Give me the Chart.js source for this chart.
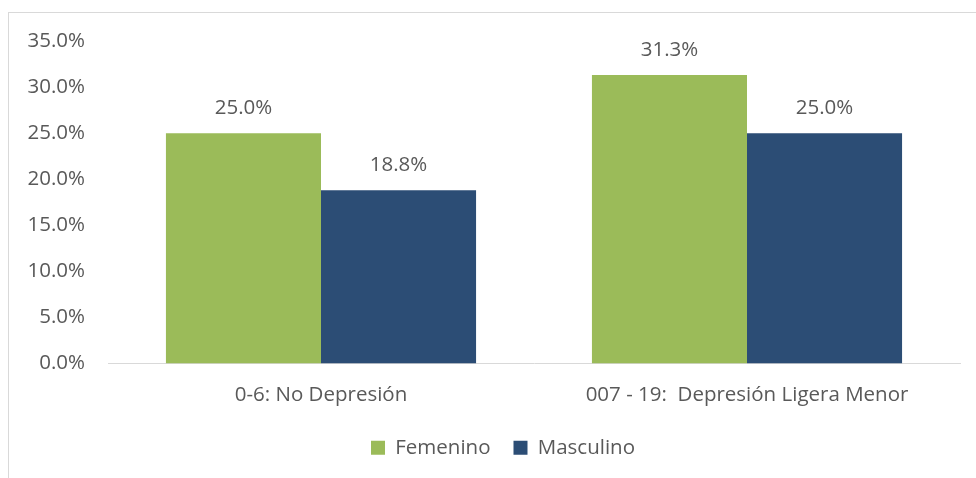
<!DOCTYPE html>
<html>
<head>
<meta charset="utf-8">
<script src="https://cdn.jsdelivr.net/npm/chart.js@4"></script>
<style>
  html, body { margin: 0; padding: 0; background: #fff; }
  #wrap { width: 976px; height: 478px; }
</style>
</head>
<body>
<div id="wrap"><canvas id="chart" width="976" height="478"></canvas></div>
<script>
// data
const categories = ['0-6: No Depresión', '007 - 19:  Depresión Ligera Menor'];
const femenino = [25.0, 31.3];
const masculino = [18.8, 25.0];
const yTicks = [0, 5, 10, 15, 20, 25, 30, 35];

const FONT = '"Open Sans", sans-serif';
const SIZE = 20.5;
const TEXT = '#595959';

// light frame round the chart, like the office export
const framePlugin = {
    id: 'frame',
    beforeDraw(chart) {
        const ctx = chart.ctx;
        ctx.save();
        ctx.strokeStyle = '#d9d9d9';
        ctx.lineWidth = 1;
        ctx.strokeRect(8.5, 12.5, 2000, 2000);
        ctx.restore();
    }
};

// legend sits a little right of centre in the original
const legendShift = {
    id: 'legendShift',
    afterLayout(chart) {
        chart.legend.left += 23;
        chart.legend.right += 23;
    }
};

// value labels above each bar
const valueLabels = {
    id: 'valueLabels',
    afterDatasetsDraw(chart) {
        const ctx = chart.ctx;
        ctx.save();
        ctx.font = SIZE + 'px ' + FONT;
        ctx.fillStyle = TEXT;
        ctx.textAlign = 'center';
        ctx.textBaseline = 'middle';
        chart.data.datasets.forEach((ds, i) => {
            chart.getDatasetMeta(i).data.forEach((bar, j) => {
                ctx.fillText(ds.data[j].toFixed(1) + '%', bar.x, bar.y - 25);
            });
        });
        ctx.restore();
    }
};

new Chart(document.getElementById('chart'), {
    type: 'bar',
    data: {
        labels: categories,
        datasets: [{
            label: 'Femenino',
            data: femenino,
            backgroundColor: '#9BBB59',
            categoryPercentage: 0.728,
            barPercentage: 1.0
        }, {
            label: 'Masculino',
            data: masculino,
            backgroundColor: '#2C4D75',
            categoryPercentage: 0.728,
            barPercentage: 1.0
        }]
    },
    plugins: [framePlugin, legendShift, valueLabels],
    options: {
        responsive: false,
        animation: false,
        layout: { padding: { left: 0, right: 16, top: 41, bottom: 10 } },
        plugins: {
            tooltip: { enabled: false },
            legend: {
                position: 'bottom',
                labels: {
                    boxWidth: 14,
                    boxHeight: 14,
                    padding: 23,
                    color: TEXT,
                    font: { family: FONT, size: SIZE }
                }
            }
        },
        scales: {
            x: {
                grid: { display: false },
                border: { color: '#d9d9d9', width: 1 },
                ticks: { color: TEXT, padding: 11, font: { family: FONT, size: SIZE } },
                afterFit(scale) { scale.height = 51; }
            },
            y: {
                min: 0,
                max: 35,
                afterBuildTicks(scale) { scale.ticks = yTicks.map(v => ({ value: v })); },
                grid: { display: false },
                border: { display: false },
                ticks: {
                    color: TEXT,
                    padding: 15,
                    font: { family: FONT, size: SIZE },
                    callback: v => v.toFixed(1) + '%'
                },
                afterFit(scale) { scale.width = 108; }
            }
        }
    }
});
</script>
</body>
</html>
